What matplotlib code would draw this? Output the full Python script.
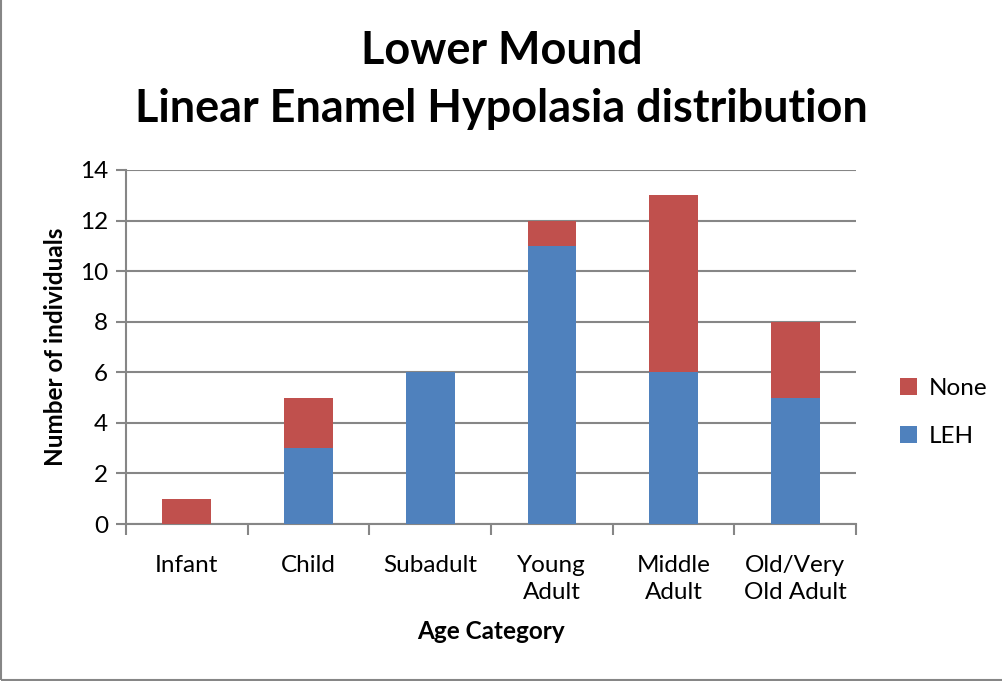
import matplotlib
matplotlib.use('Agg')
from matplotlib import pyplot as plt
from matplotlib.patches import Rectangle

categories = ['Infant', 'Child', 'Subadult', 'Young\nAdult', 'Middle\nAdult', 'Old/Very\nOld Adult']
leh = [0, 3, 6, 11, 6, 5]
none = [1, 2, 0, 1, 7, 3]

blue = '#4f81bd'
red = '#c0504d'
grey = '#868686'

plt.rcParams['font.family'] = ['Lato', 'DejaVu Sans']

fig = plt.figure(figsize=(10.03, 6.81), dpi=100)
ax = fig.add_axes([0.1256, 0.2305, 0.8535 - 0.1256, 0.7504 - 0.2305])

x = list(range(len(categories)))
ax.bar(x, leh, width=0.4, color=blue, zorder=3, label='LEH')
ax.bar(x, none, width=0.4, bottom=leh, color=red, zorder=3, label='None')

ax.set_xlim(-0.5, len(categories) - 0.5)
ax.set_ylim(0, 14)
ax.set_yticks(range(0, 15, 2))
ax.yaxis.grid(True, color=grey, linewidth=1.5, zorder=0)
ax.set_xticks(x)
ax.set_xticklabels(categories, fontsize=17.5, linespacing=1.4)
ax.set_xticks([i - 0.5 for i in range(len(categories) + 1)], minor=True)
ax.tick_params(axis='x', which='major', length=0, pad=22)
ax.tick_params(axis='x', which='minor', length=8, width=1.5, color=grey, direction='out')
ax.tick_params(axis='y', length=7, width=1.5, color=grey, labelsize=17.5, pad=6)

for side in ['top', 'right']:
    ax.spines[side].set_visible(False)
for side in ['left', 'bottom']:
    ax.spines[side].set_color(grey)
    ax.spines[side].set_linewidth(1.5)

ax.set_xlabel('Age Category', fontsize=17.5, fontweight='bold', labelpad=12)
ax.set_ylabel('Number of individuals', fontsize=17.5, fontweight='bold', labelpad=9)

fig.text(0.5, 0.8825, 'Lower Mound\nLinear Enamel Hypolasia distribution', ha='center', va='center',
         fontsize=32.4, fontweight='bold', linespacing=1.45)

handles, labels = ax.get_legend_handles_labels()
ax.legend(handles[::-1], labels[::-1], loc='center left', bbox_to_anchor=(1.03, 0.315), frameon=False,
          fontsize=17.5, handlelength=0.7, handleheight=0.7, labelspacing=1.15, handletextpad=0.5)

# outer chart border
fig.patches.append(Rectangle((0.001, 0.002), 1.5, 1.5, transform=fig.transFigure, fill=False,
                             edgecolor=grey, linewidth=1.5))

fig.savefig('out.png', dpi=100)
